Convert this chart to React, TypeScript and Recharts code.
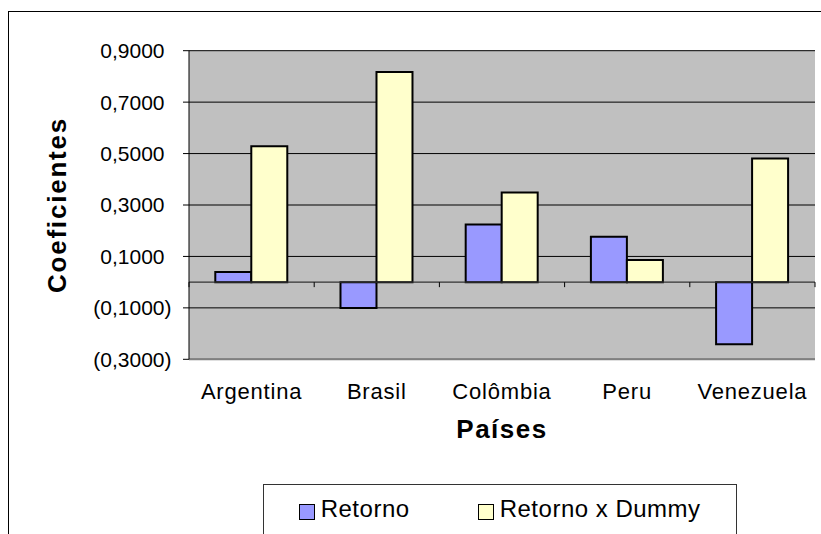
import { Bar, BarChart, CartesianGrid, Legend, ReferenceLine, XAxis, YAxis } from 'recharts'

const paises = ['Argentina', 'Brasil', 'Colômbia', 'Peru', 'Venezuela']
const retorno = [0.039, -0.101, 0.224, 0.177, -0.241]
const retornoDummy = [0.528, 0.817, 0.349, 0.086, 0.481]
const yTicks = [-0.3, -0.1, 0.1, 0.3, 0.5, 0.7, 0.9]

const series = [
  { key: 'retorno', name: 'Retorno', color: '#9999ff' },
  { key: 'dummy', name: 'Retorno x Dummy', color: '#ffffcc' },
]

const data = paises.map((pais, i) => ({ pais, retorno: retorno[i], dummy: retornoDummy[i] }))

const FONT = '"Liberation Sans", Arial, sans-serif'
const BORDER = { stroke: '#808080', strokeWidth: 2 }

function formatCoef(v: number) {
  const s = Math.abs(v).toFixed(4).replace('.', ',')
  return v < 0 ? `(${s})` : s
}

function YTick(props: any) {
  const { y, payload } = props
  const v = payload.value as number
  return (
    <text x={162.5} y={y} dy="0.355em" textAnchor="end" fontFamily={FONT} fontSize={21} fill="#000">
      {formatCoef(v)}
      {v >= 0 && <tspan fill="none">)</tspan>}
    </text>
  )
}

function XTick(props: any) {
  const { x, y, payload } = props
  return (
    <text x={x} y={y + 40} textAnchor="middle" fontFamily={FONT} fontSize={22} letterSpacing={0.8} fill="#000">
      {payload.value}
    </text>
  )
}

// linha do zero com marcas entre categorias (estilo Excel)
function ZeroAxis(props: any) {
  const { x1, x2, y1 } = props
  const n = paises.length
  const step = (x2 - x1) / n
  const marks = Array.from({ length: n + 1 }, (_, i) => x1 + i * step)
  return (
    <g>
      <line x1={x1} x2={x2} y1={y1} y2={y1} stroke="#333" strokeWidth={1.2} />
      {marks.map(mx => (
        <line key={mx} x1={mx} x2={mx} y1={y1} y2={y1 + 5} stroke="#000" strokeWidth={1} />
      ))}
    </g>
  )
}

function LegendBox() {
  return (
    <div
      style={{
        position: 'relative',
        width: 474,
        height: 70,
        boxSizing: 'border-box',
        border: '1px solid #333',
        background: '#fff',
        fontFamily: FONT,
        fontSize: 24,
        color: '#000',
      }}
    >
      {series.map((s, i) => (
        <div key={s.key} style={{ position: 'absolute', left: i === 0 ? 35 : 214, top: 12, height: 24, display: 'flex', alignItems: 'center' }}>
          <span style={{ display: 'inline-block', width: 14, height: 14, marginTop: 6, border: '1px solid #000', background: s.color }} />
          <span style={{ lineHeight: '24px', marginLeft: 6, letterSpacing: 0.5, whiteSpace: 'nowrap' }}>{s.name}</span>
        </div>
      ))}
    </div>
  )
}

export default function App() {
  return (
    <>
      {/* moldura do gráfico: só esquerda e topo aparecem no recorte */}
      <div style={{ position: 'absolute', left: 8, top: 11, width: 1, height: 523, background: '#000' }} />
      <div style={{ position: 'absolute', left: 8, top: 11, width: 813, height: 1, background: '#000' }} />
      <div style={{ position: 'absolute', left: 9, top: 12, width: 812, height: 522, overflow: 'hidden' }}>
        <BarChart
          width={812}
          height={522}
          data={data}
          margin={{ top: 38.7, right: 6, bottom: 84.7, left: 0 }}
          barCategoryGap="21%"
          barGap={0}
        >
          <CartesianGrid vertical={false} stroke="#000" fill="#c0c0c0" />
          {series.map(s => (
            <Bar
              key={s.key}
              dataKey={s.key}
              name={s.name}
              fill={s.color}
              stroke="#000"
              strokeWidth={2}
              isAnimationActive={false}
            />
          ))}
          <ReferenceLine y={0} shape={ZeroAxis} />
          <XAxis xAxisId="top" orientation="top" dataKey="pais" height={0} tick={false} tickLine={false} axisLine={BORDER} />
          <YAxis yAxisId="right" orientation="right" width={0} domain={[-0.3, 0.9]} tick={false} tickLine={false} axisLine={BORDER} />
          <XAxis
            dataKey="pais"
            height={90}
            axisLine={BORDER}
            tickLine={false}
            tickSize={0}
            tickMargin={0}
            interval={0}
            tick={XTick}
            label={{
              content: (p: any) => (
                <text
                  x={p.viewBox.x + p.viewBox.width / 2}
                  y={p.viewBox.y + 79}
                  textAnchor="middle"
                  fontFamily={FONT}
                  fontSize={26}
                  fontWeight="bold"
                  letterSpacing={1.5}
                  fill="#000"
                >
                  Países
                </text>
              ),
            }}
          />
          <YAxis
            width={180}
            domain={[-0.3, 0.9]}
            ticks={yTicks}
            interval={0}
            tickSize={6}
            axisLine={{ stroke: '#000' }}
            tickLine={{ stroke: '#000' }}
            tick={YTick}
            label={{
              content: (p: any) => {
                const cx = p.viewBox.x + 56.7
                const cy = p.viewBox.y + p.viewBox.height / 2
                return (
                  <text
                    x={cx}
                    y={cy}
                    transform={`rotate(-90, ${cx}, ${cy})`}
                    textAnchor="middle"
                    fontFamily={FONT}
                    fontSize={26}
                    fontWeight="bold"
                    letterSpacing={1.8}
                    fill="#000"
                  >
                    Coeficientes
                  </text>
                )
              },
            }}
          />
          <Legend
            layout="horizontal"
            verticalAlign="middle"
            align="center"
            wrapperStyle={{ top: 472, left: 253.7, width: 474, height: 70 }}
            content={() => <LegendBox />}
          />
        </BarChart>
      </div>
    </>
  )
}
